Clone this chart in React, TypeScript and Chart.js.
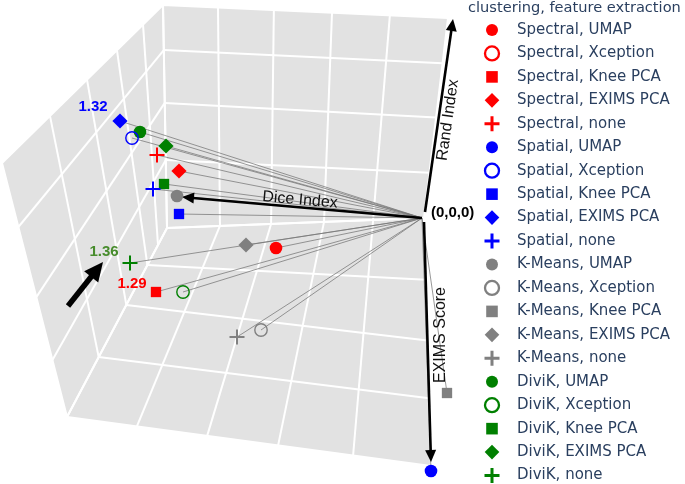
import React, { useEffect, useRef } from 'react';
import { Chart, registerables } from 'chart.js';

Chart.register(...registerables);

const W = 685;
const H = 484;

// ---- data -------------------------------------------------------------
// Results are shown in a projected 3-D scene; values below are the projected
// scene coordinates (x to the right, y upward, origin = the (0,0,0) corner).
const clusterings = ['Spectral', 'Spatial', 'K-Means', 'DiviK'];
const featureExtractions = ['UMAP', 'Xception', 'Knee PCA', 'EXIMS PCA', 'none'];
const clusterColors = ['#ff0000', '#0000ff', '#808080', '#008000'];

const spectralX = [-146, null, -266, -243, -265];
const spectralY = [-30, null, -74, 47, 63];
const spatialX = [9, -290, -243, -302, -269];
const spatialY = [-253, 80, 4, 97, 29];
const kmeansX = [-245, -161, 25, -176, -185];
const kmeansY = [22, -112, -175, -27, -119];
const divikX = [-282, -239, -258, -256, -292];
const divikY = [86, -74, 34, 72, -45];

const seriesX = [spectralX, spatialX, kmeansX, divikX];
const seriesY = [spectralY, spatialY, kmeansY, divikY];

// scene range (projected units)
const xRange = [-422, 263];
const yRange = [-266, 218];

// box corners of the 3-D scene (projected)
const boxCorners: Record<string, [number, number]> = {
  O: [2, 0],
  BLB: [-255, -10],
  TL: [-259, 213],
  TR: [26, 200],
  FRB: [9, -248],
  FLB: [-355, -199],
  FLT: [-420, 55],
};
const walls = [
  ['O', 'BLB', 'TL', 'TR'],
  ['O', 'BLB', 'FLB', 'FRB'],
  ['BLB', 'TL', 'FLT', 'FLB'],
];
// grid lines: [edgeA from, edgeA to, fractions on A, edgeB from, edgeB to, fractions on B]
const gridLines: [string, string, number[], string, string, number[]][] = [
  ['BLB', 'O', [0.206, 0.405, 0.611, 0.802], 'TL', 'TR', [0.193, 0.389, 0.593, 0.796]],
  ['BLB', 'TL', [0.305, 0.561, 0.798], 'O', 'TR', [0.226, 0.503, 0.774]],
  ['BLB', 'O', [0.206, 0.405, 0.611, 0.802], 'FLB', 'FRB', [0.192, 0.385, 0.58, 0.786]],
  ['BLB', 'FLB', [0.196, 0.407, 0.683], 'O', 'FRB', [0.249, 0.494, 0.727]],
  ['TL', 'FLT', [0.124, 0.286, 0.472, 0.702], 'BLB', 'FLB', [0.09, 0.196, 0.407, 0.683]],
  ['BLB', 'TL', [0.305, 0.561, 0.798], 'FLB', 'FLT', [0.224, 0.472, 0.748]],
];

// axis arrows
const axisArrowFrom = [[0, 0], [3, 6], [2, -4]];
const axisArrowTo = [[-240, 21], [31, 199], [9, -244]];
const axisLabels = ['Dice Index', 'Rand Index', 'EXIMS Score'];
const axisLabelAt = [[-122, 18], [26, 98], [19, -117]];
const axisLabelAngle = [5, -81.8, -90];

// annotations
const noteTexts = ['1.32', '1.36', '1.29'];
const noteAt = [[-329, 111], [-318, -34], [-290, -66]];
const noteColors = ['#0000ff', '#478c2c', '#ff0000'];
const pointerFrom = [-354, -88];
const pointerTo = [-319, -44];
const originLabel = '(0,0,0)';
const originLabelAt = [9, 5];
const legendTitle = 'clustering, feature extraction';

// ---- styles ------------------------------------------------------------
const featureStyle = ['circle', 'circle', 'rect', 'rectRot', 'cross'];
const featureFilled = [true, false, true, true, false];
const sceneRadius = [6.3, 6.2, 7.3, 7.6, 7.5];
const legendRadius = [6, 7, 8.2, 7.3, 7.5];

function drawMarker(ctx: CanvasRenderingContext2D, style: string, filled: boolean, x: number, y: number, r: number, color: string, lw: number) {
  ctx.beginPath();
  if (style === 'circle') ctx.arc(x, y, r, 0, Math.PI * 2);
  else if (style === 'rect') {
    const s = r * Math.SQRT1_2;
    ctx.rect(x - s, y - s, 2 * s, 2 * s);
  } else if (style === 'rectRot') {
    ctx.moveTo(x - r, y);
    ctx.lineTo(x, y - r);
    ctx.lineTo(x + r, y);
    ctx.lineTo(x, y + r);
    ctx.closePath();
  } else {
    ctx.moveTo(x - r, y);
    ctx.lineTo(x + r, y);
    ctx.moveTo(x, y - r);
    ctx.lineTo(x, y + r);
  }
  if (filled) {
    ctx.fillStyle = color;
    ctx.fill();
  } else {
    ctx.strokeStyle = color;
    ctx.lineWidth = lw;
    ctx.stroke();
  }
}

function drawArrow(ctx: CanvasRenderingContext2D, x0: number, y0: number, x1: number, y1: number, lw: number, headLen: number, headHalf: number, color: string) {
  const dx = x1 - x0, dy = y1 - y0;
  const len = Math.hypot(dx, dy);
  const ux = dx / len, uy = dy / len;
  const bx = x1 - ux * headLen, by = y1 - uy * headLen;
  ctx.strokeStyle = color;
  ctx.fillStyle = color;
  ctx.lineWidth = lw;
  ctx.lineCap = 'butt';
  ctx.beginPath();
  ctx.moveTo(x0, y0);
  ctx.lineTo(bx + ux, by + uy);
  ctx.stroke();
  ctx.beginPath();
  ctx.moveTo(x1, y1);
  ctx.lineTo(bx - uy * headHalf, by + ux * headHalf);
  ctx.lineTo(bx + uy * headHalf, by - ux * headHalf);
  ctx.closePath();
  ctx.fill();
}

const scenePlugin = {
  id: 'scene',
  beforeDatasetsDraw(chart: any) {
    const { ctx, scales } = chart;
    const P = (p: number[]) => [scales.x.getPixelForValue(p[0]), scales.y.getPixelForValue(p[1])];
    const C = (k: string) => P(boxCorners[k]);
    ctx.save();
    // walls
    ctx.fillStyle = '#e2e2e2';
    for (const w of walls) {
      ctx.beginPath();
      w.forEach((k, i) => {
        const [px, py] = C(k);
        if (i === 0) ctx.moveTo(px, py); else ctx.lineTo(px, py);
      });
      ctx.closePath();
      ctx.fill();
    }
    ctx.strokeStyle = '#ffffff';
    ctx.lineWidth = 2;
    for (const [a0, a1, fa, b0, b1, fb] of gridLines) {
      const A0 = C(a0), A1 = C(a1), B0 = C(b0), B1 = C(b1);
      fa.forEach((t, i) => {
        const s = fb[i];
        ctx.beginPath();
        ctx.moveTo(A0[0] + (A1[0] - A0[0]) * t, A0[1] + (A1[1] - A0[1]) * t);
        ctx.lineTo(B0[0] + (B1[0] - B0[0]) * s, B0[1] + (B1[1] - B0[1]) * s);
        ctx.stroke();
      });
    }
    for (const w of walls) {
      ctx.beginPath();
      w.forEach((k, i) => {
        const [px, py] = C(k);
        if (i === 0) ctx.moveTo(px, py); else ctx.lineTo(px, py);
      });
      ctx.closePath();
      ctx.stroke();
    }
    // connectors from origin to every result
    const [ox, oy] = P([0, 0]);
    ctx.strokeStyle = 'rgba(120,120,120,0.85)';
    ctx.lineWidth = 0.9;
    seriesX.forEach((xs, s) => {
      xs.forEach((vx, f) => {
        const vy = seriesY[s][f];
        if (vx === null || vy === null) return;
        const [px, py] = P([vx, vy]);
        ctx.beginPath();
        ctx.moveTo(ox, oy);
        ctx.lineTo(px, py);
        ctx.stroke();
      });
    });
    // axis arrows
    axisArrowFrom.forEach((from, i) => {
      const [x0, y0] = P(from);
      const [x1, y1] = P(axisArrowTo[i]);
      drawArrow(ctx, x0, y0, x1, y1, 2.6, 12, 5.5, '#000');
    });
    ctx.restore();
  },
  afterDatasetsDraw(chart: any) {
    const { ctx, scales } = chart;
    const P = (p: number[]) => [scales.x.getPixelForValue(p[0]), scales.y.getPixelForValue(p[1])];
    ctx.save();
    // axis labels
    ctx.font = '16px "Liberation Sans", Arial, sans-serif';
    ctx.fillStyle = '#111';
    ctx.textAlign = 'center';
    ctx.textBaseline = 'middle';
    axisLabels.forEach((t, i) => {
      const [px, py] = P(axisLabelAt[i]);
      ctx.save();
      ctx.translate(px, py);
      ctx.rotate((axisLabelAngle[i] * Math.PI) / 180);
      ctx.fillText(t, 0, 0);
      ctx.restore();
    });
    // origin label
    ctx.font = 'bold 15px "Liberation Sans", Arial, sans-serif';
    ctx.textAlign = 'left';
    ctx.fillStyle = '#000';
    const [olx, oly] = P(originLabelAt);
    ctx.fillText(originLabel, olx, oly);
    // notes
    ctx.textAlign = 'center';
    noteTexts.forEach((t, i) => {
      const [px, py] = P(noteAt[i]);
      ctx.fillStyle = noteColors[i];
      ctx.fillText(t, px, py);
    });
    // pointer arrow
    const [p0x, p0y] = P(pointerFrom);
    const [p1x, p1y] = P(pointerTo);
    drawArrow(ctx, p0x, p0y, p1x, p1y, 5.5, 19, 9, '#000');

    // legend
    ctx.fillStyle = '#2a3f5f';
    ctx.textAlign = 'left';
    ctx.textBaseline = 'middle';
    ctx.font = '14.6px "DejaVu Sans", Verdana, sans-serif';
    ctx.fillText(legendTitle, 468, 8);
    ctx.font = '15px "DejaVu Sans", Verdana, sans-serif';
    clusterings.forEach((c, s) => {
      featureExtractions.forEach((f, k) => {
        const i = s * 5 + k;
        const y = 30 + i * 23.45;
        drawMarker(ctx, featureStyle[k], featureFilled[k], 492, y, legendRadius[k], clusterColors[s], k === 4 ? 3 : 2.3);
        ctx.fillStyle = '#2a3f5f';
        ctx.fillText(`${c}, ${f}`, 517, y);
      });
    });
    ctx.restore();
  },
};

export default function App() {
  const ref = useRef<HTMLCanvasElement | null>(null);
  useEffect(() => {
    document.body.style.margin = '0';
    const datasets: any[] = [];
    clusterings.forEach((c, s) => {
      featureExtractions.forEach((f, k) => {
        const vx = seriesX[s][k];
        const vy = seriesY[s][k];
        const filled = featureFilled[k];
        datasets.push({
          label: `${c}, ${f}`,
          data: vx === null || vy === null ? [] : [{ x: vx, y: vy }],
          pointStyle: featureStyle[k],
          pointRadius: sceneRadius[k],
          pointHoverRadius: sceneRadius[k],
          pointBackgroundColor: filled ? clusterColors[s] : 'rgba(0,0,0,0)',
          pointBorderColor: clusterColors[s],
          pointBorderWidth: filled ? 0 : k === 4 ? 2 : 1.4,
          showLine: false,
        });
      });
    });
    const chart = new Chart(ref.current as HTMLCanvasElement, {
      type: 'scatter',
      data: { datasets },
      options: {
        responsive: false,
        devicePixelRatio: 1,
        animation: false,
        layout: { padding: 0, autoPadding: false },
        events: [],
        scales: {
          x: { type: 'linear', min: xRange[0], max: xRange[1], display: false },
          y: { type: 'linear', min: yRange[0], max: yRange[1], display: false },
        },
        plugins: { legend: { display: false }, tooltip: { enabled: false } },
      },
      plugins: [scenePlugin],
    });
    return () => chart.destroy();
  }, []);
  return (
    <div style={{ position: 'fixed', left: 0, top: 0, width: W, height: H, background: '#fff' }}>
      <canvas ref={ref} width={W} height={H} style={{ width: W, height: H, display: 'block' }} />
    </div>
  );
}
